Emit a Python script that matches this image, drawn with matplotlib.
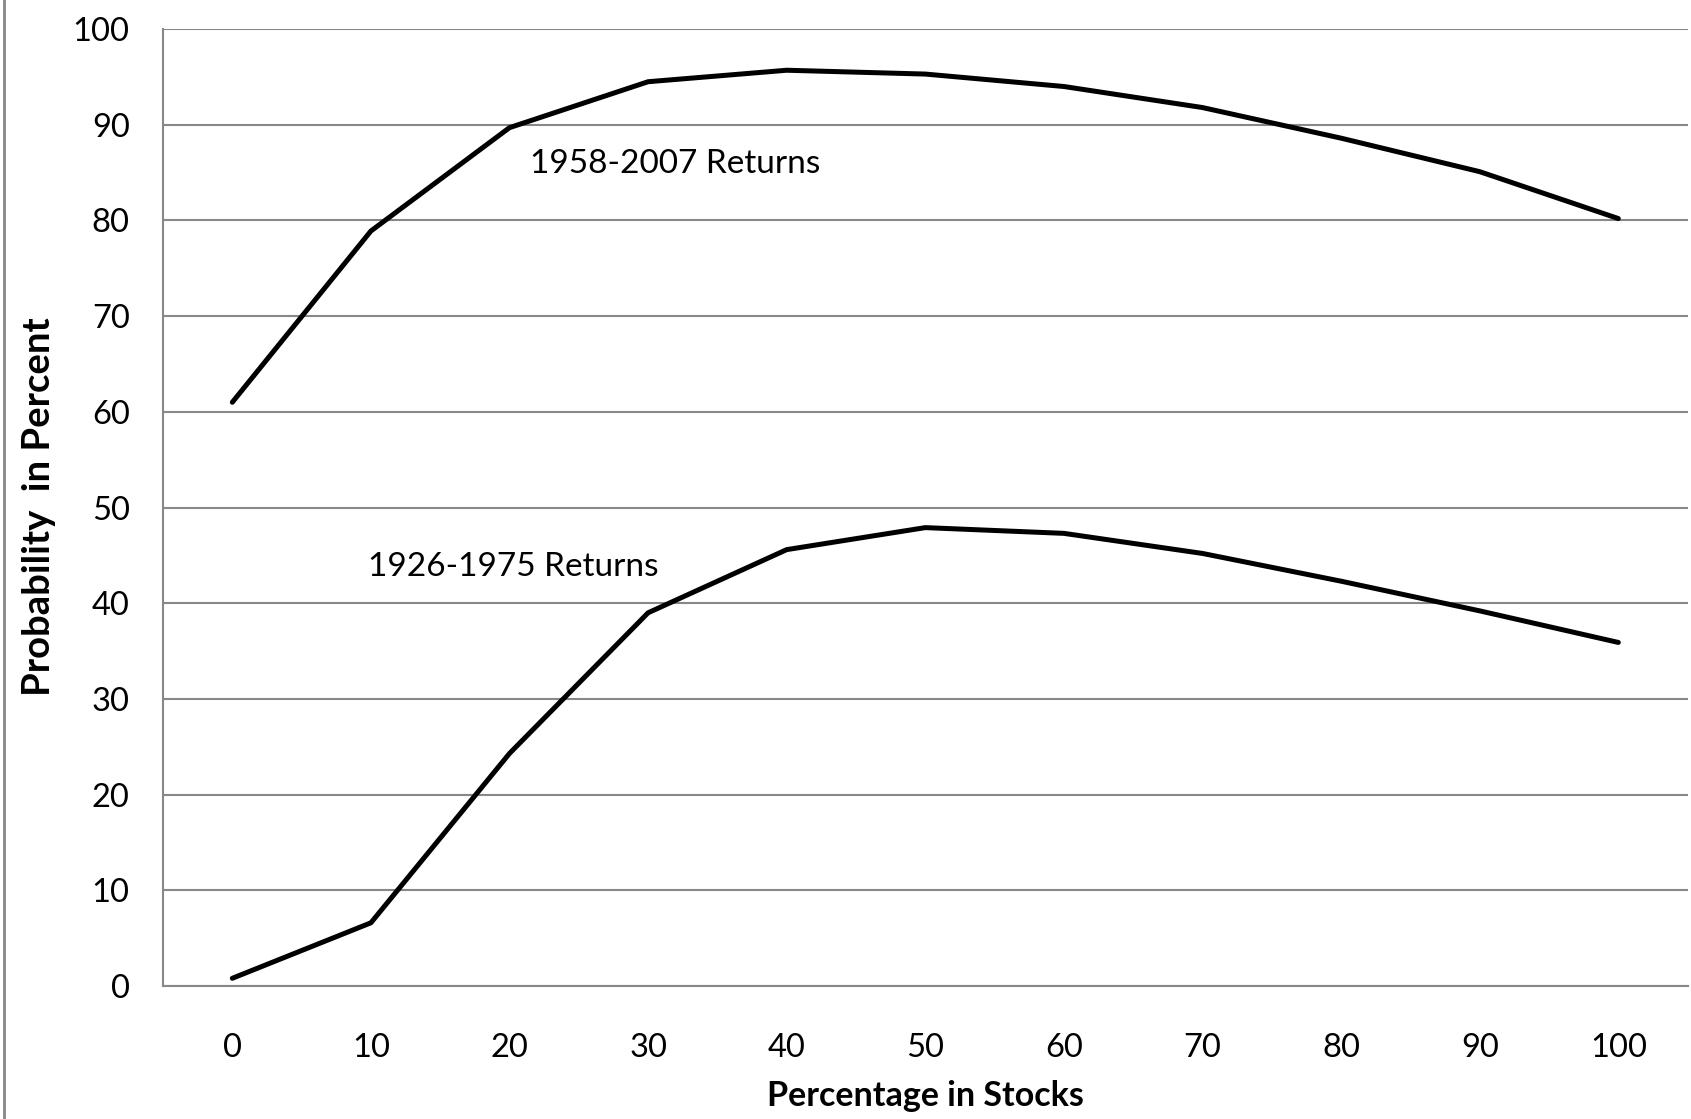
import matplotlib
matplotlib.use("Agg")
import matplotlib.pyplot as plt
from matplotlib.lines import Line2D

# Data
stock_pct = [0, 10, 20, 30, 40, 50, 60, 70, 80, 90, 100]
returns_1958_2007 = [61.0, 78.9, 89.7, 94.5, 95.7, 95.3, 94.0, 91.8, 88.6, 85.1, 80.2]
returns_1926_1975 = [0.8, 6.6, 24.3, 39.0, 45.6, 47.9, 47.3, 45.2, 42.3, 39.2, 35.9]
y_ticks = [0, 10, 20, 30, 40, 50, 60, 70, 80, 90, 100]

plt.rcParams["font.family"] = ["Lato", "DejaVu Sans"]

fig = plt.figure(figsize=(16.91, 11.19), dpi=100)
ax = fig.add_axes([0.0964, 0.1189, 0.9016, 0.8551])

grid_color = "#888888"
x_pos = list(range(len(stock_pct)))
ax.plot(x_pos, returns_1958_2007, color="black", lw=3.6, solid_capstyle="round",
        solid_joinstyle="round", zorder=3)
ax.plot(x_pos, returns_1926_1975, color="black", lw=3.6, solid_capstyle="round",
        solid_joinstyle="round", zorder=3)

ax.set_xlim(-0.5, len(stock_pct) - 0.5)
ax.set_ylim(0, 100)
ax.set_xticks(x_pos)
ax.set_xticklabels([str(v) for v in stock_pct])
ax.set_yticks(y_ticks)
ax.yaxis.grid(True, color=grid_color, lw=1.5)
ax.set_axisbelow(True)
ax.tick_params(length=0, labelsize=23.5)
ax.tick_params(axis="y", pad=24)
ax.tick_params(axis="x", pad=34)

for side in ["top", "right"]:
    ax.spines[side].set_visible(False)
for side in ["left", "bottom"]:
    ax.spines[side].set_color(grid_color)
    ax.spines[side].set_linewidth(1.5)

ax.text(2.15, 85.9, "1958-2007 Returns", fontsize=24, va="center", ha="left")
ax.text(0.98, 43.8, "1926-1975 Returns", fontsize=24, va="center", ha="left")

fig.text(0.547, 0.021, "Percentage in Stocks", fontsize=24.5, fontweight="bold",
         ha="center", va="center")
fig.text(0.023, 0.547, "Probability  in Percent", fontsize=27.5, fontweight="bold",
         ha="center", va="center", rotation=90)

# grey outer border on the left edge
fig.add_artist(Line2D([0.0025, 0.0025], [0, 1], color=grid_color, lw=2,
                      transform=fig.transFigure))

fig.savefig("out.png", dpi=100)
